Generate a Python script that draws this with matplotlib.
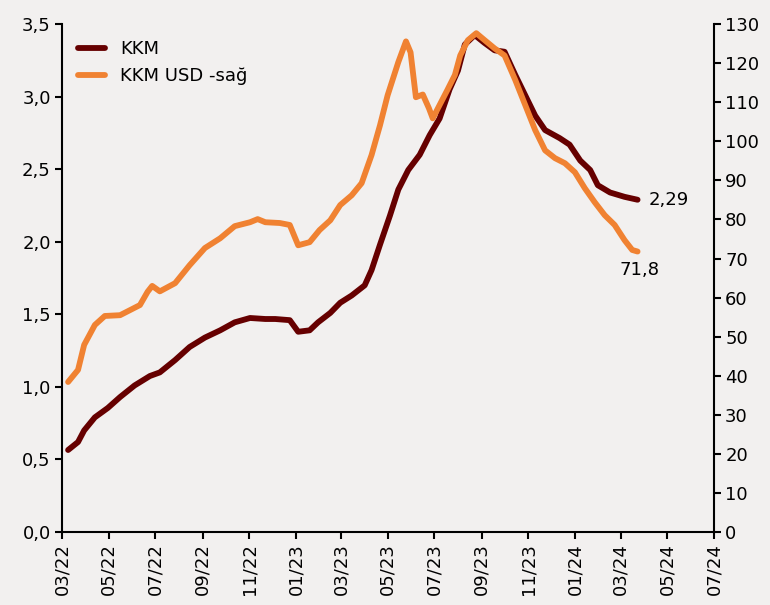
import matplotlib
matplotlib.use("Agg")
import matplotlib.pyplot as plt
import matplotlib.dates as mdates
from matplotlib.ticker import FuncFormatter, MultipleLocator
import pandas as pd

kkm_dates = ["2022-03-09", "2022-03-22", "2022-03-30", "2022-04-13", "2022-04-30",
             "2022-05-16", "2022-06-04", "2022-06-24", "2022-07-07", "2022-07-27",
             "2022-08-15", "2022-09-04", "2022-09-24", "2022-10-13", "2022-11-02",
             "2022-11-22", "2022-12-05", "2022-12-24", "2023-01-04", "2023-01-19",
             "2023-01-30", "2023-02-15", "2023-02-28", "2023-03-15", "2023-04-01",
             "2023-04-10", "2023-04-21", "2023-05-04", "2023-05-15", "2023-05-28",
             "2023-06-12", "2023-06-25", "2023-07-08", "2023-07-21", "2023-08-01",
             "2023-08-10", "2023-08-23", "2023-09-05", "2023-09-18", "2023-10-01",
             "2023-10-15", "2023-10-28", "2023-11-10", "2023-11-23", "2023-12-12",
             "2023-12-25", "2024-01-08", "2024-01-21", "2024-01-31", "2024-02-16",
             "2024-03-06", "2024-03-23"]
kkm = [0.565, 0.62, 0.70, 0.79, 0.855,
       0.93, 1.01, 1.075, 1.10, 1.185,
       1.275, 1.34, 1.39, 1.445, 1.475,
       1.468, 1.468, 1.46, 1.38, 1.39,
       1.445, 1.51, 1.58, 1.63, 1.70,
       1.805, 1.98, 2.18, 2.36, 2.495,
       2.60, 2.735, 2.85, 3.05, 3.18,
       3.36, 3.425, 3.37, 3.32, 3.31,
       3.15, 3.01, 2.87, 2.77, 2.715,
       2.67, 2.56, 2.495, 2.39, 2.34,
       2.31, 2.29]

usd_dates = ["2022-03-09", "2022-03-22", "2022-03-30", "2022-04-13", "2022-04-26",
             "2022-05-16", "2022-05-29", "2022-06-11", "2022-06-21", "2022-06-27",
             "2022-07-07", "2022-07-27", "2022-08-15", "2022-09-04", "2022-09-24",
             "2022-10-13", "2022-11-02", "2022-11-12", "2022-11-22", "2022-12-11",
             "2022-12-24", "2023-01-04", "2023-01-19", "2023-02-01", "2023-02-15",
             "2023-02-28", "2023-03-15", "2023-03-28", "2023-04-10", "2023-04-21",
             "2023-05-01", "2023-05-15", "2023-05-25", "2023-05-31", "2023-06-07",
             "2023-06-16", "2023-06-24", "2023-06-29", "2023-07-08", "2023-07-18",
             "2023-07-28", "2023-08-04", "2023-08-14", "2023-08-25", "2023-09-05",
             "2023-09-18", "2023-10-01", "2023-10-15", "2023-10-28", "2023-11-10",
             "2023-11-23", "2023-12-06", "2023-12-19", "2024-01-01", "2024-01-14",
             "2024-01-27", "2024-02-09", "2024-02-22", "2024-03-06", "2024-03-16",
             "2024-03-23"]
kkm_usd = [38.4, 41.5, 47.9, 53.0, 55.3,
           55.5, 56.8, 58.1, 61.5, 63.0,
           61.6, 63.7, 68.3, 72.7, 75.2,
           78.3, 79.3, 80.1, 79.3, 79.1,
           78.6, 73.4, 74.2, 77.3, 79.8,
           83.7, 86.2, 89.3, 96.5, 104.1,
           111.8, 120.3, 125.6, 122.8, 111.3,
           112.0, 108.5, 105.9, 109.3, 113.1,
           117.0, 122.0, 125.9, 127.7, 125.9,
           123.8, 122.0, 115.7, 109.3, 102.9,
           97.7, 95.7, 94.4, 92.1, 88.0,
           84.4, 81.1, 78.6, 74.7, 72.2,
           71.8]

bg = "#f2f0ef"
dark = "#660000"
orange = "#f08232"

plt.rcParams["font.family"] = ["DejaVu Sans"]
fig = plt.figure(figsize=(7.7, 6.05), dpi=100, facecolor=bg)
ax = fig.add_axes([0.0805, 0.1207, 0.8468, 0.8393], facecolor=bg)
ax2 = ax.twinx()

kd = pd.to_datetime(kkm_dates)
ud = pd.to_datetime(usd_dates)
l1, = ax.plot(kd, kkm, color=dark, lw=4.2, solid_capstyle="round", zorder=3, label="KKM")
l2, = ax2.plot(ud, kkm_usd, color=orange, lw=4.2, solid_capstyle="round", zorder=3,
               label="KKM USD -sağ")

ax.set_ylim(0, 3.5)
ax2.set_ylim(0, 130)
ax.yaxis.set_major_locator(MultipleLocator(0.5))
ax2.yaxis.set_major_locator(MultipleLocator(10))
ax.yaxis.set_major_formatter(FuncFormatter(lambda v, p: f"{v:.1f}".replace(".", ",")))

ax.set_xlim(pd.Timestamp("2022-03-01"), pd.Timestamp("2024-07-01"))
ax.xaxis.set_major_locator(mdates.MonthLocator(bymonth=[1, 3, 5, 7, 9, 11]))
ax.xaxis.set_major_formatter(mdates.DateFormatter("%m/%y"))
for lab in ax.get_xticklabels():
    lab.set_rotation(90)

for a in (ax, ax2):
    a.spines["top"].set_visible(False)
    for s in a.spines.values():
        s.set_linewidth(1.5)
    a.tick_params(labelsize=13, width=1.5, length=5, direction="out", pad=3)
ax.spines["right"].set_visible(False)
ax2.spines["left"].set_visible(False)
ax2.spines["bottom"].set_visible(False)

ax.text(pd.Timestamp("2024-04-06"), 2.29, "2,29", fontsize=13, va="center", ha="left")
ax2.text(pd.Timestamp("2024-03-26"), 67.0, "71,8", fontsize=13, va="center", ha="center")

ax.legend([l1, l2], ["KKM", "KKM USD -sağ"], loc="upper left", frameon=False,
          fontsize=13, handlelength=1.5, bbox_to_anchor=(0.0, 1.0))

fig.savefig("out.png", dpi=100, facecolor=bg)
